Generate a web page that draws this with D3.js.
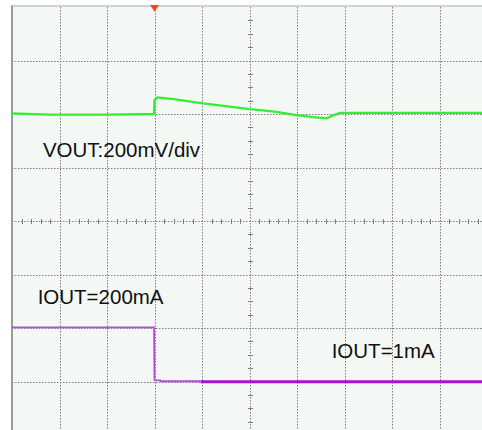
<!DOCTYPE html>
<html>
<head>
<meta charset="utf-8">
<script src="https://cdn.jsdelivr.net/npm/d3@7"></script>
<style>
  html, body { margin: 0; padding: 0; background: #ffffff; }
  svg { display: block; }
  text { font-family: "Liberation Sans", Arial, sans-serif; fill: #111; }
</style>
</head>
<body>
<svg id="chart" width="482" height="430"></svg>
<script>
// Grid divisions (oscilloscope screen: 10 x 8 divisions)
const xDivisions = [0, 1, 2, 3, 4, 5, 6, 7, 8, 9, 10];
const yDivisions = [-4, -3, -2, -1, 0, 1, 2, 3, 4];

// Channel 1 (VOUT, green) – x in divisions, y in divisions
const voutX = [0, 0.8, 2.0, 2.99, 3.0, 3.06, 3.4, 4.02, 5.01, 5.57, 5.99, 6.34, 6.63, 6.76, 6.91, 8.0, 10.0];
const voutY = [2.01, 1.99, 1.99, 2.0, 2.26, 2.31, 2.28, 2.20, 2.09, 2.04, 1.98, 1.94, 1.92, 1.975, 2.02, 2.02, 2.02];

// Channel 2 (IOUT, purple)
const ioutX = [0, 2.99, 3.0, 3.02, 3.12, 3.13, 3.97];
const ioutY = [-1.99, -1.99, -2.97, -2.98, -2.98, -2.995, -2.995];
const ioutTailX = [3.97, 10.0];
const ioutTailY = [-3.005, -3.005];

// Annotations
const labels = [
  { text: "VOUT:200mV/div", x: 0.65, y: 1.19 },
  { text: "IOUT=200mA", x: 0.54, y: -1.56 },
  { text: "IOUT=1mA", x: 6.73, y: -2.56 }
];
const triggerPos = 3.0;

const svg = d3.select("#chart");
const pLeft = 12, pTop = 7, pRight = 487, pBottom = 435;

const x = d3.scaleLinear().domain([0, 10]).range([pLeft, pRight]);
const y = d3.scaleLinear().domain([-4, 4]).range([pBottom, pTop]);

// screen background
svg.append("rect")
  .attr("x", pLeft).attr("y", pTop - 1)
  .attr("width", pRight - pLeft).attr("height", pBottom - pTop + 1)
  .attr("fill", "#f4f8f5");

// grid via axes
const gridStyle = g => {
  g.select(".domain").remove();
  g.selectAll(".tick line")
    .attr("stroke", "#7e7e7e")
    .attr("stroke-width", 1)
    .attr("stroke-dasharray", "1.5,1.5");
  g.selectAll(".tick text").remove();
};

svg.append("g")
  .attr("transform", `translate(0,${pTop})`)
  .call(d3.axisBottom(x).tickValues(xDivisions.slice(1, -1)).tickSize(pBottom - pTop).tickFormat(""))
  .call(gridStyle)
  .selectAll(".tick").attr("transform", d => `translate(${Math.round(x(d)) + 0.5},0)`);

svg.append("g")
  .attr("transform", `translate(${pLeft},0)`)
  .call(d3.axisRight(y).tickValues(yDivisions.slice(1, -1)).tickSize(pRight - pLeft).tickFormat(""))
  .call(gridStyle)
  .selectAll(".tick").attr("transform", d => `translate(0,${Math.round(y(d)) + 0.5})`);

// minor ticks on center axes
const cx = Math.round(x(5)) + 0.5, cy = Math.round(y(0)) + 0.5;
const minorX = d3.range(0, 10.001, 0.2).filter(v => Math.abs(v - Math.round(v)) > 1e-6);
const minorY = d3.range(-4, 4.001, 0.25).filter(v => Math.abs(v - Math.round(v)) > 1e-6);
svg.append("g").selectAll("line").data(minorX).join("line")
  .attr("x1", d => Math.round(x(d)) + 0.5).attr("x2", d => Math.round(x(d)) + 0.5)
  .attr("y1", cy - 2.5).attr("y2", cy + 2.5)
  .attr("stroke", "#7e7e7e").attr("stroke-width", 1);
svg.append("g").selectAll("line").data(minorY).join("line")
  .attr("y1", d => Math.round(y(d)) + 0.5).attr("y2", d => Math.round(y(d)) + 0.5)
  .attr("x1", cx - 2.5).attr("x2", cx + 2.5)
  .attr("stroke", "#7e7e7e").attr("stroke-width", 1);

// borders
svg.append("line").attr("x1", pLeft).attr("x2", 482).attr("y1", pTop - 1).attr("y2", pTop - 1)
  .attr("stroke", "#c4c4c4").attr("stroke-width", 1.5);
svg.append("line").attr("x1", pLeft).attr("x2", pLeft).attr("y1", pTop - 1.5).attr("y2", 430)
  .attr("stroke", "#9a9a9a").attr("stroke-width", 2);

// traces
const line = d3.line().x(d => x(d[0])).y(d => y(d[1]));
svg.append("path")
  .datum(d3.zip(voutX, voutY))
  .attr("d", line)
  .attr("fill", "none").attr("stroke", "#33ee33").attr("stroke-width", 2.3)
  .attr("stroke-linejoin", "round");

svg.append("path")
  .datum(d3.zip(ioutX, ioutY))
  .attr("d", line)
  .attr("fill", "none").attr("stroke", "#bb48dd").attr("stroke-width", 1.8);
svg.append("path")
  .datum(d3.zip(ioutTailX, ioutTailY))
  .attr("d", line)
  .attr("fill", "none").attr("stroke", "#a612cc").attr("stroke-width", 3);

// trigger marker
const tx = x(triggerPos);
svg.append("path")
  .attr("d", `M${tx - 4.5},${pTop - 2} L${tx + 4.5},${pTop - 2} L${tx},${pTop + 4.5} Z`)
  .attr("fill", "#ff4212");

// labels
svg.append("g").selectAll("text").data(labels).join("text")
  .attr("x", d => x(d.x)).attr("y", d => y(d.y))
  .attr("font-size", 20.5)
  .text(d => d.text);
</script>
</body>
</html>
